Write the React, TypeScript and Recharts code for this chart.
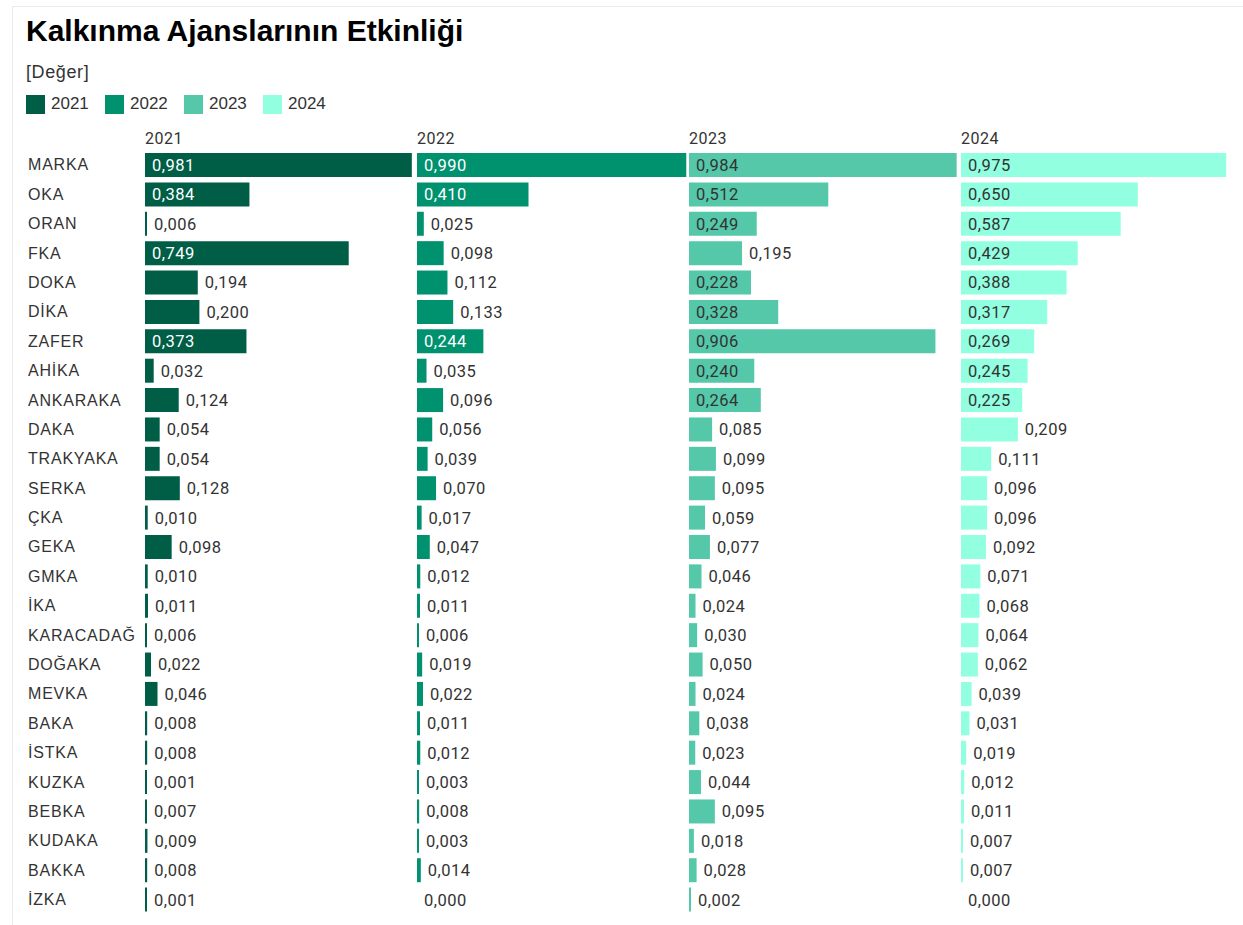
import React from 'react';
import { BarChart, Bar, XAxis, YAxis, LabelList } from 'recharts';

const categories = ['MARKA','OKA','ORAN','FKA','DOKA','DİKA','ZAFER','AHİKA','ANKARAKA','DAKA','TRAKYAKA','SERKA','ÇKA','GEKA','GMKA','İKA','KARACADAĞ','DOĞAKA','MEVKA','BAKA','İSTKA','KUZKA','BEBKA','KUDAKA','BAKKA','İZKA'];
const years = ['2021','2022','2023','2024'];
const v2021 = [0.981,0.384,0.006,0.749,0.194,0.200,0.373,0.032,0.124,0.054,0.054,0.128,0.010,0.098,0.010,0.011,0.006,0.022,0.046,0.008,0.008,0.001,0.007,0.009,0.008,0.001];
const v2022 = [0.990,0.410,0.025,0.098,0.112,0.133,0.244,0.035,0.096,0.056,0.039,0.070,0.017,0.047,0.012,0.011,0.006,0.019,0.022,0.011,0.012,0.003,0.008,0.003,0.014,0.000];
const v2023 = [0.984,0.512,0.249,0.195,0.228,0.328,0.906,0.240,0.264,0.085,0.099,0.095,0.059,0.077,0.046,0.024,0.030,0.050,0.024,0.038,0.023,0.044,0.095,0.018,0.028,0.002];
const v2024 = [0.975,0.650,0.587,0.429,0.388,0.317,0.269,0.245,0.225,0.209,0.111,0.096,0.096,0.092,0.071,0.068,0.064,0.062,0.039,0.031,0.019,0.012,0.011,0.007,0.007,0.000];
const seriesValues = [v2021, v2022, v2023, v2024];
const colors = ['#005E47', '#00916F', '#55C8AA', '#91FFE0'];
const insideTextColors = ['#ffffff', '#ffffff', '#333333', '#333333'];

const FONT = 'Roboto, "Liberation Sans", Arial, sans-serif';
const SANS = '"Liberation Sans", Arial, sans-serif';
const TOP = 150;
const HEIGHT = 764;
const PANEL_W = 272;
const PANEL_X = [145, 417, 689, 961];

const fmt = (v: number) => v.toFixed(3).replace('.', ',');

const makeLabel = (insideColor: string) => (props: any) => {
  const { x, y, width, height, value } = props;
  const w = Number(width) || 0;
  const inside = w > 58;
  const tx = inside ? Number(x) + 7 : Number(x) + Math.max(w, 0) + 7;
  return (
    <text x={tx} y={Number(y) + Number(height) / 2} dy="0.36em" fill={inside ? insideColor : '#333333'} fontSize={16.5} letterSpacing={0.5} fontFamily={FONT}>
      {fmt(Number(value))}
    </text>
  );
};

const CatTick = (props: any) => {
  const { y, payload } = props;
  return (
    <text x={0} y={y} dy="0.36em" fill="#333333" fontSize={16} letterSpacing={0.8} fontFamily={SANS} textAnchor="start">
      {payload.value}
    </text>
  );
};

function Panel({ idx }: { idx: number }) {
  const data = categories.map((c, i) => ({ name: c, value: seriesValues[idx][i] }));
  const first = idx === 0;
  const width = first ? PANEL_W + 117 : PANEL_W;
  const left = first ? 28 : PANEL_X[idx];
  return (
    <div style={{ position: 'absolute', left, top: TOP }}>
      <BarChart
        width={width}
        height={HEIGHT}
        data={data}
        layout="vertical"
        margin={{ top: 0, right: 0, bottom: 0, left: 0 }}
        style={{ overflow: 'visible' }}
      >
        <XAxis type="number" domain={[0, 1]} hide />
        <YAxis
          type="category"
          dataKey="name"
          hide={!first}
          width={117}
          axisLine={false}
          tickLine={false}
          tick={<CatTick />}
          interval={0}
        />
        <Bar
          dataKey="value"
          fill={colors[idx]}
          barSize={24}
          isAnimationActive={false}
          minPointSize={(v: any) => (Number(v) > 0 ? 2 : 0.01)}
        >
          <LabelList dataKey="value" content={makeLabel(insideTextColors[idx])} />
        </Bar>
      </BarChart>
    </div>
  );
}

export default function App() {
  return (
    <div style={{ position: 'absolute', left: 0, top: 0, width: 1243, height: 925, background: '#fff', fontFamily: FONT, overflow: 'hidden' }}>
      <div style={{ position: 'absolute', left: 12, top: 6, width: 1240, height: 930, borderTop: '1px solid #efe9e3', borderLeft: '1px solid #efe9e3' }} />
      <div style={{ position: 'absolute', left: 26, top: 14, fontSize: 30, fontWeight: 700, color: '#000', lineHeight: '34px', fontFamily: SANS }}>
        Kalkınma Ajanslarının Etkinliği
      </div>
      <div style={{ position: 'absolute', left: 26, top: 61, fontSize: 18, color: '#333', lineHeight: '22px', letterSpacing: 0.6, fontFamily: SANS }}>[Değer]</div>
      <div style={{ position: 'absolute', left: 26, top: 94, display: 'flex', alignItems: 'center' }}>
        {years.map((y, i) => (
          <div key={y} style={{ display: 'flex', alignItems: 'center', width: 79 }}>
            <div style={{ width: 19, height: 19, background: colors[i], marginRight: 6 }} />
            <span style={{ fontSize: 17, color: '#333', lineHeight: '20px', fontFamily: SANS }}>{y}</span>
          </div>
        ))}
      </div>
      {years.map((y, i) => (
        <div key={y} style={{ position: 'absolute', left: PANEL_X[i], top: 129, fontSize: 16, color: '#333', lineHeight: '20px', letterSpacing: 0.5 }}>{y}</div>
      ))}
      {years.map((y, i) => (
        <Panel key={y} idx={i} />
      ))}
    </div>
  );
}
